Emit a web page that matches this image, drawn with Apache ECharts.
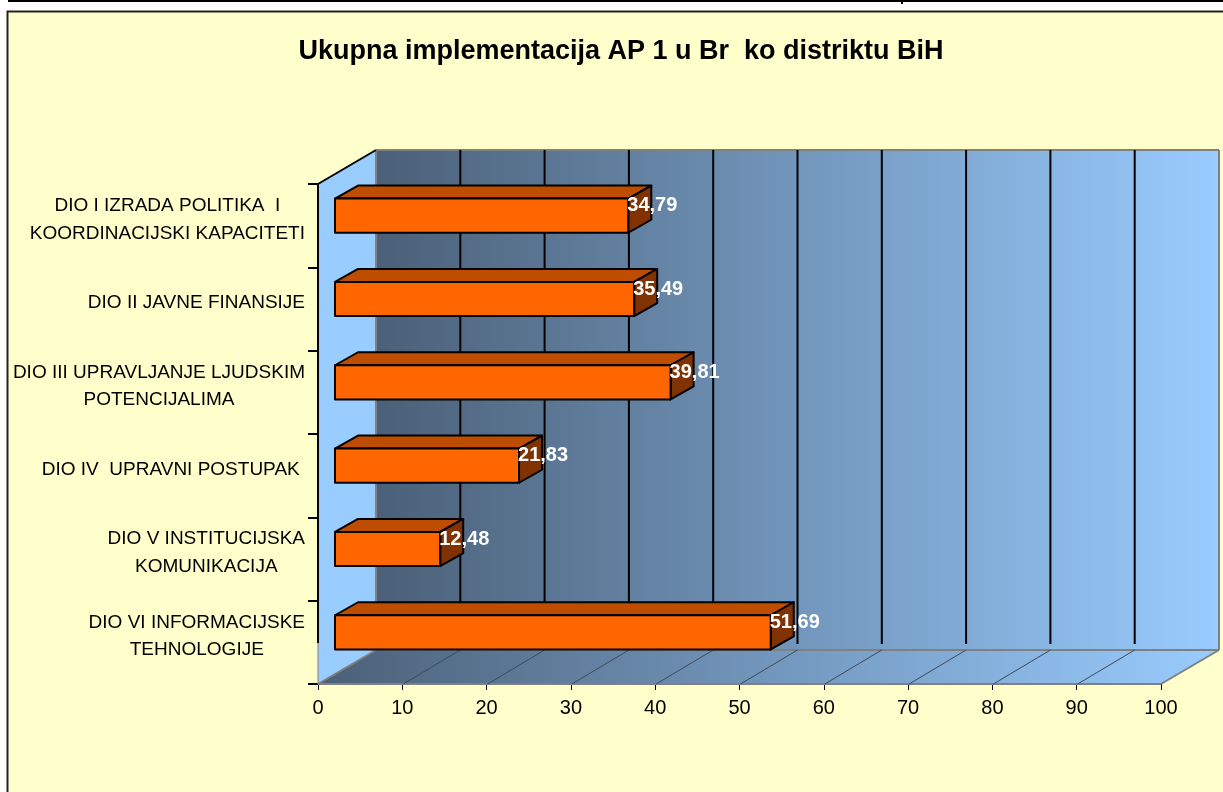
<!DOCTYPE html>
<html>
<head>
<meta charset="utf-8">
<style>html,body{margin:0;padding:0;background:#fff}#main{width:1223px;height:792px}</style>
<script src="https://cdn.jsdelivr.net/npm/echarts@6/dist/echarts.min.js"></script>
</head>
<body>
<div id="main"></div>
<script>
const titleText = 'Ukupna implementacija AP 1 u Br  ko distriktu BiH';
const categories = [
  'DIO I IZRADA POLITIKA  I\nKOORDINACIJSKI KAPACITETI',
  'DIO II JAVNE FINANSIJE',
  'DIO III UPRAVLJANJE LJUDSKIM\nPOTENCIJALIMA',
  'DIO IV  UPRAVNI POSTUPAK ',
  'DIO V INSTITUCIJSKA\nKOMUNIKACIJA',
  'DIO VI INFORMACIJSKE\nTEHNOLOGIJE'
];
const values = [34.79, 35.49, 39.81, 21.83, 12.48, 51.69];
const xTicks = [0, 10, 20, 30, 40, 50, 60, 70, 80, 90, 100];

const FONT = '"Liberation Sans", Arial, sans-serif';
const LABEL_SIZE = 19;
const DEPTH = [58, -34];      // wall depth
const BAR_FRONT = [17, -10];  // bar front face offset from the axis plane
const BAR_BACK = [40, -23];
const EDGE = '#808080';

const measureCtx = document.createElement('canvas').getContext('2d');
function textWidth(str) {
  measureCtx.font = `${LABEL_SIZE}px "Liberation Sans"`;
  return measureCtx.measureText(str).width;
}

function poly(points, style) {
  return { type: 'polygon', shape: { points }, style };
}
function line(a, b, stroke, lineWidth) {
  return { type: 'line', shape: { x1: a[0], y1: a[1], x2: b[0], y2: b[1] }, style: { stroke, lineWidth } };
}
function ramp() {
  return new echarts.graphic.LinearGradient(0, 0, 1, 0, [
    { offset: 0, color: '#4b6078' },
    { offset: 1, color: '#99ccff' }
  ]);
}

function renderWalls(params) {
  const c = params.coordSys;
  const tl = [c.x, c.y], bl = [c.x, c.y + c.height], br = [c.x + c.width, c.y + c.height];
  const back = p => [p[0] + DEPTH[0], p[1] + DEPTH[1]];
  const tr = [c.x + c.width, c.y];
  return {
    type: 'group',
    children: [
      poly([back(tl), back(tr), back(br), back(bl)], { fill: ramp() }),
      poly([tl, back(tl), back(bl), bl], { fill: '#99ccff' }),
      poly([bl, back(bl), back(br), br], { fill: ramp() }),
      line(back(tl), back(tr), EDGE, 2),
      line(back(tr), back(br), EDGE, 2),
      line(back(tl), back(bl), EDGE, 2),
      line(back(bl), back(br), EDGE, 2),
      line(bl, br, EDGE, 2),
      line(bl, back(bl), EDGE, 2),
      line(br, back(br), EDGE, 2),
      line(tl, back(tl), '#000', 2),
      line(tl, [c.x, back(bl)[1] - 7], '#000', 2),
      line([c.x, back(bl)[1] - 7], bl, EDGE, 1)
    ]
  };
}

function renderGrid(params, api) {
  const v = api.value(0);
  if (v === 0 || v === 100) return { type: 'group', children: [] };
  const c = params.coordSys;
  const x = api.coord([v, 0])[0];
  const bottom = c.y + c.height;
  return {
    type: 'group',
    children: [
      line([x + DEPTH[0], c.y + DEPTH[1]], [x + DEPTH[0], bottom + DEPTH[1] - 6], '#000', 2),
      line([x + 1, bottom], [x + DEPTH[0], bottom + DEPTH[1]], '#3c4a5a', 1)
    ]
  };
}

function renderBar(params, api) {
  const pt = api.coord([0, api.value(1)]);
  const end = api.coord([api.value(0), api.value(1)])[0];
  const half = api.size([0, 1])[1] * 0.205;
  const y0 = pt[1] - half, y1 = pt[1] + half;
  const f = (x, y) => [x + BAR_FRONT[0], y + BAR_FRONT[1]];
  const b = (x, y) => [x + BAR_BACK[0], y + BAR_BACK[1]];
  const edge = { stroke: '#000', lineWidth: 2, lineJoin: 'round' };
  return {
    type: 'group',
    children: [
      poly([f(pt[0], y0), b(pt[0], y0), b(end, y0), f(end, y0)], { fill: '#bf4d00', ...edge }),
      poly([f(end, y0), b(end, y0), b(end, y1), f(end, y1)], { fill: '#803300', ...edge }),
      poly([f(pt[0], y0), f(end, y0), f(end, y1), f(pt[0], y1)], { fill: '#ff6600', ...edge }),
      {
        type: 'text',
        style: {
          x: f(end, y0)[0] - 1,
          y: pt[1] - 20,
          text: api.value(0).toFixed(2).replace('.', ','),
          fill: '#fff',
          font: `bold 20px ${FONT}`,
          align: 'left',
          verticalAlign: 'middle'
        }
      }
    ]
  };
}

function renderCategory(params, api) {
  const i = api.value(0);
  const cy = api.coord([0, i])[1] - 6;
  const rows = categories[i].split('\n');
  const block = Math.max(...rows.map(textWidth));
  const centre = 305 - block / 2;
  return {
    type: 'group',
    children: rows.map((row, n) => ({
      type: 'text',
      style: {
        x: centre,
        y: cy + (n - (rows.length - 1) / 2) * 27.5,
        text: row,
        fill: '#000',
        font: `${LABEL_SIZE}px ${FONT}`,
        align: 'center',
        verticalAlign: 'middle'
      }
    }))
  };
}

const option = {
  backgroundColor: '#fff',
  animation: false,
  title: {
    text: titleText,
    left: 616,
    top: 33,
    textAlign: 'center',
    textStyle: { fontFamily: FONT, fontWeight: 'bold', fontSize: 27, color: '#000' }
  },
  graphic: [
    { type: 'rect', z: -10, shape: { x: 7.5, y: 11.5, width: 1230, height: 800 }, style: { fill: '#ffffcc', stroke: '#222', lineWidth: 2 } },
    { type: 'line', z: -10, shape: { x1: 8, y1: 1, x2: 1223, y2: 1 }, style: { stroke: '#000', lineWidth: 2 } },
    { type: 'line', z: -10, shape: { x1: 902, y1: 0, x2: 902, y2: 4 }, style: { stroke: '#000', lineWidth: 2 } }
  ],
  grid: { left: 318, top: 184, width: 843, height: 500, containLabel: false },
  xAxis: {
    type: 'value',
    min: 0,
    max: 100,
    interval: 10,
    axisLine: { show: false },
    axisTick: { show: true, length: 6, lineStyle: { color: '#000', width: 1 } },
    axisLabel: { color: '#000', fontFamily: FONT, fontSize: 20, margin: 14 },
    splitLine: { show: false }
  },
  yAxis: {
    type: 'category',
    inverse: true,
    data: categories,
    axisLine: { show: false },
    axisTick: { show: true, length: 10, lineStyle: { color: '#000', width: 2 } },
    axisLabel: { show: false },
    splitLine: { show: false }
  },
  series: [
    { type: 'custom', renderItem: renderWalls, data: [[0, 0]], silent: true, z: 1 },
    { type: 'custom', renderItem: renderGrid, data: xTicks.map(v => [v, 0]), silent: true, z: 2 },
    { type: 'custom', renderItem: renderBar, data: values.map((v, i) => [v, i]), z: 3 },
    { type: 'custom', coordinateSystem: 'cartesian2d', renderItem: renderCategory, data: categories.map((_, i) => [i]), encode: { y: 0, x: -1 }, silent: true, z: 4 }
  ]
};

const chart = echarts.init(document.getElementById('main'), null, { renderer: 'canvas' });
chart.setOption(option);
</script>
</body>
</html>
